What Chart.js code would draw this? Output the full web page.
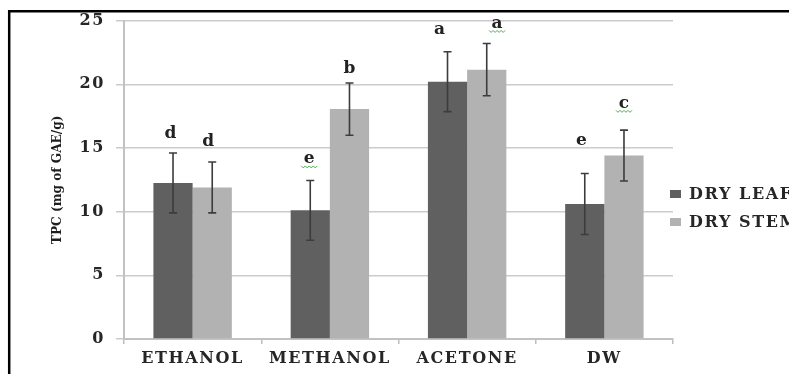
<!DOCTYPE html>
<html>
<head>
<meta charset="utf-8">
<title>TPC of dry leaf and dry stem extracts</title>
<script src="https://cdn.jsdelivr.net/npm/chart.js@4/dist/chart.umd.min.js"></script>
<style>
  html, body { margin: 0; padding: 0; background: #ffffff; overflow: hidden; }
  #wrap { width: 789px; height: 374px; position: relative; }
</style>
</head>
<body>
<div id="wrap"><canvas id="chart" width="789" height="374"></canvas></div>
<script>
// Extraction solvents on the x axis
const categories = ['ETHANOL', 'METHANOL', 'ACETONE', 'DW'];
const seriesNames = ['DRY LEAF', 'DRY STEM'];

// Mean total phenolic content (mg GAE/g) and its error
const leafValues = [12.25, 10.1, 20.2, 10.6];
const stemValues = [11.9, 18.05, 21.15, 14.4];
const leafErrors = [2.35, 2.35, 2.35, 2.4];
const stemErrors = [2.0, 2.05, 2.05, 2.0];

// Significance letters written over each bar
const leafLetters = ['d', 'e', 'a', 'e'];
const stemLetters = ['d', 'b', 'a', 'c'];

// Value axis ticks
const yTicks = [0, 5, 10, 15, 20, 25];

const SERIF = "'DejaVu Serif', 'Liberation Serif', serif";
const LABEL_SPACING = '1.6px';

// Error bars with caps, drawn from each dataset's own errors
const errorBarPlugin = {
  id: 'errorBars',
  afterDatasetsDraw(chart) {
    const ctx = chart.ctx;
    const y = chart.scales.y;
    ctx.save();
    ctx.strokeStyle = '#3c3c3c';
    ctx.lineWidth = 1.6;
    chart.data.datasets.forEach((ds, di) => {
      const meta = chart.getDatasetMeta(di);
      meta.data.forEach((bar, i) => {
        const v = ds.data[i], e = ds.errors[i];
        const top = y.getPixelForValue(v + e);
        const bot = y.getPixelForValue(v - e);
        const cap = 4;
        ctx.beginPath();
        ctx.moveTo(bar.x, top); ctx.lineTo(bar.x, bot);
        ctx.moveTo(bar.x - cap, top); ctx.lineTo(bar.x + cap, top);
        ctx.moveTo(bar.x - cap, bot); ctx.lineTo(bar.x + cap, bot);
        ctx.stroke();
      });
    });
    ctx.restore();
  }
};

// Letters above the error bars, some carrying a wavy underline
const letterPlugin = {
  id: 'sigLetters',
  afterDatasetsDraw(chart, args, opts) {
    const ctx = chart.ctx;
    const y = chart.scales.y;
    ctx.save();
    ctx.letterSpacing = '0px';
    ctx.font = 'bold 17px ' + SERIF;
    ctx.textAlign = 'center';
    ctx.textBaseline = 'alphabetic';
    chart.data.datasets.forEach((ds, di) => {
      const meta = chart.getDatasetMeta(di);
      meta.data.forEach((bar, i) => {
        const top = y.getPixelForValue(ds.data[i] + ds.errors[i]);
        const bx = bar.x + opts.dx[di][i];
        const by = top - opts.lift[di][i];
        ctx.fillStyle = '#222222';
        ctx.fillText(ds.letters[i], bx, by);
        if (opts.wavy[di][i]) {
          ctx.strokeStyle = '#4caf50';
          ctx.lineWidth = 1;
          ctx.beginPath();
          const w = 16, x0 = bx - w / 2, yy = by + 3;
          for (let k = 0; k <= 8; k++) {
            const px = x0 + k * w / 8;
            const py = yy + (k % 2 ? 1.5 : -0.5);
            if (k === 0) ctx.moveTo(px, py); else ctx.lineTo(px, py);
          }
          ctx.stroke();
        }
      });
    });
    ctx.restore();
  }
};

// Legend at the right edge, frame lines, and wide label spacing
const framePlugin = {
  id: 'frame',
  beforeDraw(chart) {
    const ctx = chart.ctx;
    ctx.save();
    ctx.fillStyle = '#ffffff';
    ctx.fillRect(0, 0, chart.width, chart.height);
    ctx.restore();
    ctx.letterSpacing = LABEL_SPACING;
    const ys = chart.scales.y;
    if (ys && !ys.__plainTitle) {
      const orig = ys.drawTitle.bind(ys);
      ys.drawTitle = function () {
        const c = this.ctx;
        const prev = c.letterSpacing;
        c.letterSpacing = '0px';
        orig();
        c.letterSpacing = prev;
      };
      ys.__plainTitle = true;
    }
  },
  afterDraw(chart, args, opts) {
    const ctx = chart.ctx;
    ctx.save();
    // legend
    ctx.letterSpacing = LABEL_SPACING;
    ctx.font = 'bold 16px ' + SERIF;
    ctx.textAlign = 'left';
    ctx.textBaseline = 'middle';
    chart.data.datasets.forEach((ds, di) => {
      const cy = opts.legendY[di];
      ctx.fillStyle = ds.backgroundColor;
      ctx.fillRect(opts.legendX, cy - 4, 11, 8);
      ctx.fillStyle = '#262626';
      ctx.fillText(ds.label, opts.legendX + 19, cy + 0.5);
    });
    // frame
    ctx.strokeStyle = '#000000';
    ctx.lineWidth = 2.5;
    ctx.beginPath();
    ctx.moveTo(9.2, chart.height); ctx.lineTo(9.2, 11.2); ctx.lineTo(chart.width, 11.2);
    ctx.stroke();
    ctx.restore();
  }
};

new Chart(document.getElementById('chart'), {
  type: 'bar',
  data: {
    labels: categories,
    datasets: [
      { label: seriesNames[0], data: leafValues, errors: leafErrors, letters: leafLetters,
        backgroundColor: '#606060' },
      { label: seriesNames[1], data: stemValues, errors: stemErrors, letters: stemLetters,
        backgroundColor: '#b2b2b2' }
    ]
  },
  options: {
    responsive: false,
    animation: false,
    devicePixelRatio: 1,
    layout: { padding: { left: 0, top: 20, right: 116, bottom: 0 } },
    datasets: { bar: { categoryPercentage: 2 / 3.5, barPercentage: 1.0, borderWidth: 0 } },
    plugins: {
      legend: { display: false },
      tooltip: { enabled: false },
      sigLetters: {
        lift: [[15, 17, 17.7, 28.3], [16, 10, 15.6, 22.3]],
        dx: [[-2.5, -1, -8, -3.3], [-4, 0, 10.4, 0]],
        wavy: [[false, true, false, false], [false, false, true, true]]
      },
      frame: { legendX: 670, legendY: [194, 222] }
    },
    scales: {
      x: {
        grid: { display: true, drawOnChartArea: false, drawTicks: true, tickLength: 5,
                color: '#bdbdbd', lineWidth: 1.5, offset: true },
        border: { display: true, color: '#c2c2c2', width: 2 },
        ticks: { font: { family: SERIF, size: 16, weight: 'bold' }, color: '#262626',
                 padding: 5, maxRotation: 0, autoSkip: false },
        afterFit(s) { s.height = 35; }
      },
      y: {
        min: 0, max: 25,
        afterBuildTicks(s) { s.ticks = yTicks.map(v => ({ value: v })); },
        grid: { color: '#cbcbcb', lineWidth: 1.5, tickLength: 8 },
        border: { display: true, color: '#c2c2c2', width: 2 },
        ticks: { font: { family: SERIF, size: 16, weight: 'bold' }, color: '#262626', padding: 11 },
        title: {
          display: true,
          text: 'TPC (mg of GAE/g)',
          color: '#1e1e1e',
          font: { family: "'DejaVu Serif Condensed', 'Liberation Sans Narrow', serif", size: 13.5, weight: 'bold' },
          padding: { top: 49, bottom: 0 }
        },
        afterFit(s) { s.width = 124; }
      }
    }
  },
  plugins: [errorBarPlugin, letterPlugin, framePlugin]
});
</script>
</body>
</html>
